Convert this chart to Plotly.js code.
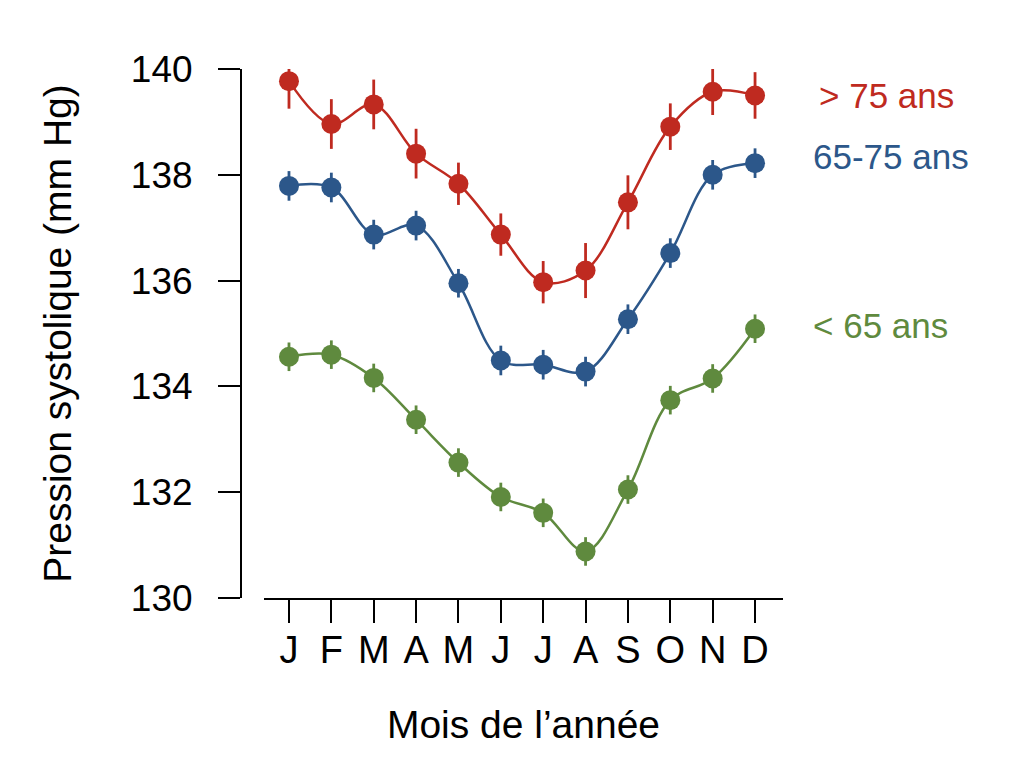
<!DOCTYPE html>
<html>
<head>
<meta charset="utf-8">
<script src="https://cdn.plot.ly/plotly-3.0.1.min.js"></script>
<style>
  html, body { margin: 0; padding: 0; background: #ffffff; }
  #plot { width: 1024px; height: 776px; }
</style>
</head>
<body>
<div id="plot"></div>
<script>

// Months (x positions 1..12) and their labels
let months = [1, 2, 3, 4, 5, 6, 7, 8, 9, 10, 11, 12];
let month_labels = ["J", "F", "M", "A", "M", "J", "J", "A", "S", "O", "N", "D"];

// Systolic pressure by age group (mm Hg)
let sbp_over75 = [139.77, 138.96, 139.33, 138.40, 137.83, 136.87, 135.97, 136.19, 137.48, 138.91, 139.57, 139.50];
let err_over75 = [0.52, 0.47, 0.47, 0.47, 0.40, 0.40, 0.40, 0.52, 0.51, 0.44, 0.44, 0.44];

let sbp_65to75 = [137.79, 137.76, 136.87, 137.04, 135.95, 134.49, 134.41, 134.28, 135.27, 136.52, 138.00, 138.22];
let err_65to75 = [0.28, 0.28, 0.28, 0.28, 0.27, 0.28, 0.28, 0.28, 0.28, 0.28, 0.28, 0.28];

let sbp_under65 = [134.56, 134.60, 134.16, 133.37, 132.56, 131.91, 131.61, 130.88, 132.05, 133.74, 134.15, 135.09];
let err_under65 = [0.27, 0.27, 0.27, 0.27, 0.27, 0.27, 0.27, 0.27, 0.27, 0.27, 0.27, 0.27];

let group_names = ["> 75 ans", "65-75 ans", "< 65 ans"];
let group_cols = ["#bf2a20", "#2c578a", "#5f8a3e"];

let y_ticks = [130, 132, 134, 136, 138, 140];

let font_family = '"Liberation Sans", Arial, Helvetica, sans-serif';

// Build one trace per group
let series = [
  {y: sbp_over75, err: err_over75},
  {y: sbp_65to75, err: err_65to75},
  {y: sbp_under65, err: err_under65}
];

let data = series.map((s, i) => {
  return({
    x: months,
    y: s.y,
    type: 'scatter',
    mode: 'lines+markers',
    name: group_names[i],
    showlegend: false,
    cliponaxis: false,
    line: {
      color: group_cols[i],
      width: 2.5,
      shape: 'spline',
      smoothing: 1
    },
    marker: {
      color: group_cols[i],
      size: 20
    },
    error_y: {
      type: 'data',
      array: s.err,
      visible: true,
      color: group_cols[i],
      thickness: 2.8,
      width: 0
    }
  });
});

// Group labels to the right of the plot
let label_y = [139.5, 138.35, 135.15];
let label_x = [1.063, 1.052, 1.052];
let annotations = group_names.map((g, i) => {
  return({
    xref: 'paper',
    yref: 'y',
    x: label_x[i],
    y: label_y[i],
    xanchor: 'left',
    yanchor: 'middle',
    text: g,
    showarrow: false,
    font: {family: font_family, size: 35, color: group_cols[i]}
  });
});

let layout = {
  width: 1024,
  height: 776,
  paper_bgcolor: '#ffffff',
  plot_bgcolor: '#ffffff',
  font: {family: font_family, color: '#000000'},
  margin: {l: 241, r: 241, t: 69, b: 178},
  xaxis: {
    domain: [0.0424, 1],
    range: [0.41, 12.66],
    tickmode: 'array',
    tickvals: months,
    ticktext: month_labels,
    ticks: 'outside',
    ticklen: 23,
    tickwidth: 2,
    tickcolor: '#000000',
    ticklabelstandoff: -6,
    tickfont: {family: font_family, size: 38, color: '#000000'},
    showline: true,
    linecolor: '#000000',
    linewidth: 2,
    showgrid: false,
    zeroline: false,
    fixedrange: true,
    title: {
      text: 'Mois de l\u2019année',
      standoff: 41,
      font: {family: font_family, size: 39, color: '#000000'}
    }
  },
  yaxis: {
    anchor: 'free',
    position: 0,
    range: [130, 140],
    tickmode: 'array',
    tickvals: y_ticks,
    ticktext: y_ticks.map(v => v.toFixed(0)),
    ticks: 'outside',
    ticklen: 22,
    tickwidth: 2,
    tickcolor: '#000000',
    ticklabelstandoff: 18,
    tickfont: {family: font_family, size: 37, color: '#000000'},
    showline: true,
    linecolor: '#000000',
    linewidth: 2,
    showgrid: false,
    zeroline: false,
    fixedrange: true,
    title: {
      text: 'Pression systolique (mm Hg)',
      standoff: 46,
      font: {family: font_family, size: 39, color: '#000000'}
    }
  },
  annotations: annotations
};

let config = {displayModeBar: false, staticPlot: true};

Plotly.newPlot('plot', data, layout, config);

</script>
</body>
</html>
